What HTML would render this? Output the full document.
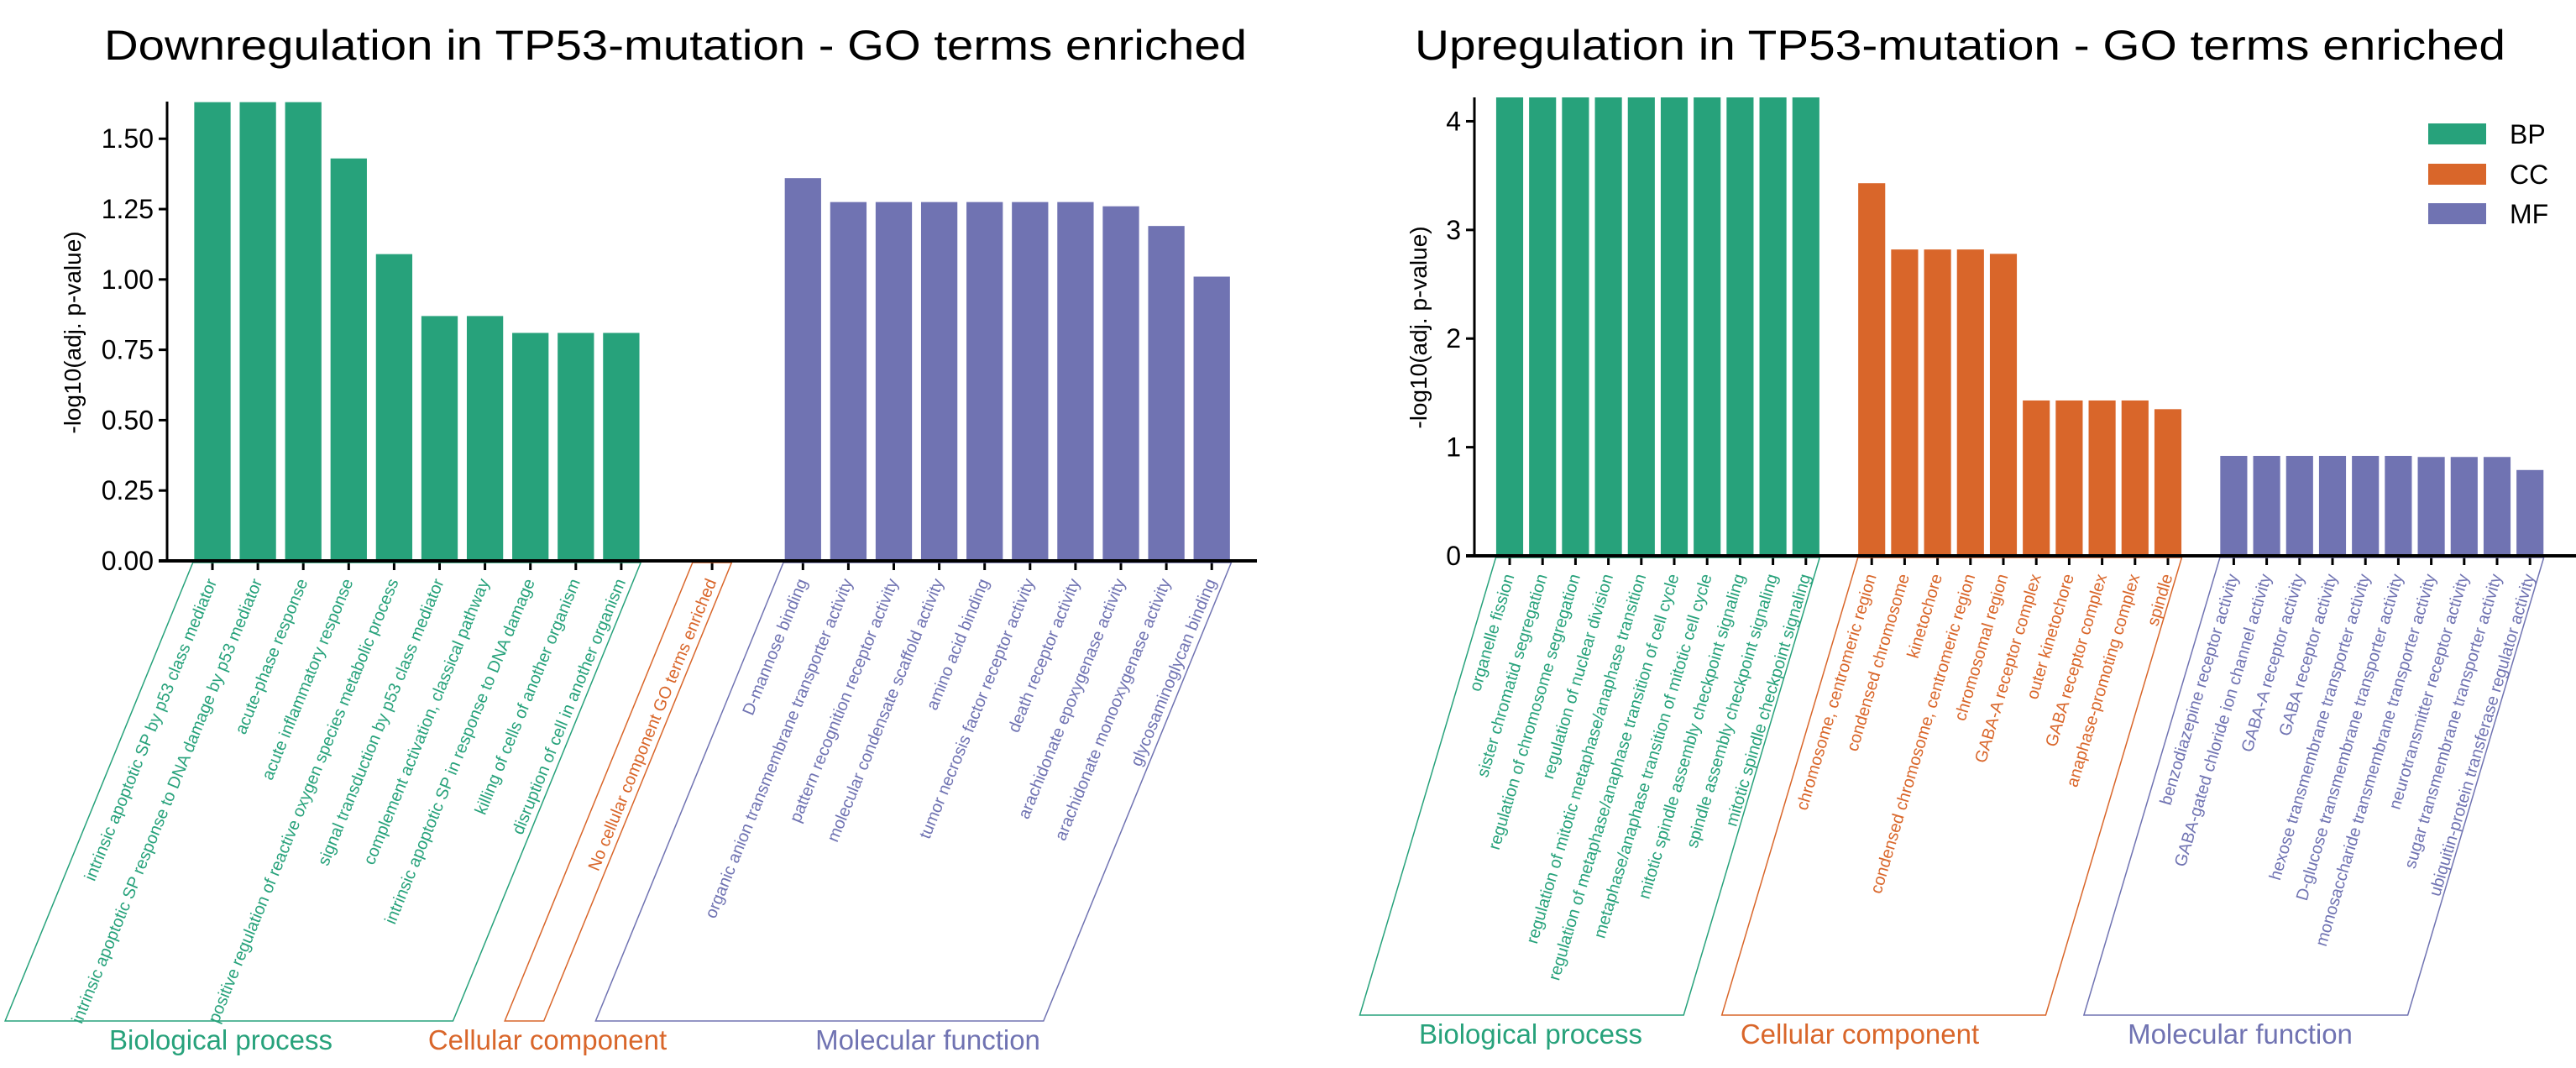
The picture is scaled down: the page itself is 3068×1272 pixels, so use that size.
<!DOCTYPE html>
<html><head><meta charset="utf-8"><style>
html,body{margin:0;padding:0;background:#fff;}
svg{display:block;font-family:"Liberation Sans",Arial,sans-serif;}
</style></head><body>
<svg id="chart" width="3068" height="1272" viewBox="0 0 3068 1272" xmlns="http://www.w3.org/2000/svg">
<text x="124" y="71" font-size="50" textLength="1361" lengthAdjust="spacingAndGlyphs">Downregulation in TP53-mutation - GO terms enriched</text>
<text x="1685" y="71" font-size="50" textLength="1299" lengthAdjust="spacingAndGlyphs">Upregulation in TP53-mutation - GO terms enriched</text>
<text transform="translate(96,396) rotate(-90)" text-anchor="middle" font-size="28">-log10(adj. p-value)</text>
<text transform="translate(1699,390) rotate(-90)" text-anchor="middle" font-size="28">-log10(adj. p-value)</text>
<g>
<rect x="2892" y="147" width="69" height="25" fill="#27a27b"/>
<text x="2989" y="171" font-size="32">BP</text>
<rect x="2892" y="195" width="69" height="25" fill="#d9662a"/>
<text x="2989" y="219" font-size="32">CC</text>
<rect x="2892" y="242" width="69" height="25" fill="#7073b2"/>
<text x="2989" y="266" font-size="32">MF</text>
</g>
</svg>
<script>
const leftBP = ["intrinsic apoptotic SP by p53 class mediator","intrinsic apoptotic SP response to DNA damage by p53 mediator","acute-phase response","acute inflammatory response","positive regulation of reactive oxygen species metabolic process","signal transduction by p53 class mediator","complement activation, classical pathway","intrinsic apoptotic SP in response to DNA damage","killing of cells of another organism","disruption of cell in another organism"];
const leftBPValues = [1.63,1.63,1.63,1.43,1.09,0.87,0.87,0.81,0.81,0.81];
const leftCC = ["No cellular component GO terms enriched"];
const leftCCValues = [0];
const leftMF = ["D-mannose binding","organic anion transmembrane transporter activity","pattern recognition receptor activity","molecular condensate scaffold activity","amino acid binding","tumor necrosis factor receptor activity","death receptor activity","arachidonate epoxygenase activity","arachidonate monooxygenase activity","glycosaminoglycan binding"];
const leftMFValues = [1.36,1.275,1.275,1.275,1.275,1.275,1.275,1.26,1.19,1.01];
const leftTicks = [0,0.25,0.5,0.75,1.0,1.25,1.5];
const leftTickLabels = ["0.00","0.25","0.50","0.75","1.00","1.25","1.50"];
const rightBP = ["organelle fission","sister chromatid segregation","regulation of chromosome segregation","regulation of nuclear division","regulation of mitotic metaphase/anaphase transition","regulation of metaphase/anaphase transition of cell cycle","metaphase/anaphase transition of mitotic cell cycle","mitotic spindle assembly checkpoint signaling","spindle assembly checkpoint signaling","mitotic spindle checkpoint signaling"];
const rightBPValues = [4.22,4.22,4.22,4.22,4.22,4.22,4.22,4.22,4.22,4.22];
const rightCC = ["chromosome, centromeric region","condensed chromosome","kinetochore","condensed chromosome, centromeric region","chromosomal region","GABA-A receptor complex","outer kinetochore","GABA receptor complex","anaphase-promoting complex","spindle"];
const rightCCValues = [3.43,2.82,2.82,2.82,2.78,1.43,1.43,1.43,1.43,1.35];
const rightMF = ["benzodiazepine receptor activity","GABA-gated chloride ion channel activity","GABA-A receptor activity","GABA receptor activity","hexose transmembrane transporter activity","D-glucose transmembrane transporter activity","monosaccharide transmembrane transporter activity","neurotransmitter receptor activity","sugar transmembrane transporter activity","ubiquitin-protein transferase regulator activity"];
const rightMFValues = [0.92,0.92,0.92,0.92,0.92,0.92,0.91,0.91,0.91,0.79];
const rightTicks = [0,1,2,3,4];
const rightTickLabels = ["0","1","2","3","4"];

const NS="http://www.w3.org/2000/svg";
const svg=document.getElementById('chart');
const COL={BP:"#27a27b",CC:"#d9662a",MF:"#7073b2"};
const GROUPNAME={BP:"Biological process",CC:"Cellular component",MF:"Molecular function"};
function mk(tag,attrs,parent){const e=document.createElementNS(NS,tag);for(const k in attrs)e.setAttribute(k,attrs[k]);(parent||svg).appendChild(e);return e;}

function drawPanel(cfg){
  const g=mk('g',{});
  
  
  const groups=[["BP",cfg.bp,cfg.bpV],["CC",cfg.cc,cfg.ccV],["MF",cfg.mf,cfg.mfV]];
  const x0=cfg.axisX, x1=cfg.axisEnd;
  const pitch=cfg.pitch;
  const xs=i=>cfg.first+pitch*i;
  const ys=v=>cfg.base-(v/cfg.ymax)*(cfg.base-cfg.top);
  const bw=pitch*cfg.barFrac;
  cfg.ticks.forEach((t,k)=>{
    const y=ys(t);
    const tl=mk('line',{x1:x0-10,x2:x0,y1:y,y2:y,stroke:"#000","stroke-width":3},g);
    
    
    const tx=mk('text',{x:x0-16,y:y+11,"text-anchor":"end","font-size":32},g);
    
    
    tx.textContent=cfg.tickLabels[k];
  });
  let idx=0;
  const ang=cfg.angle, rad=ang*Math.PI/180;
  const shift=(cfg.bottom-cfg.base)/Math.tan(rad);
  groups.forEach((gr,gi)=>{
    const key=gr[0],labels=gr[1],vals=gr[2];
    const startIdx=idx;
    labels.forEach((lab,j)=>{
      const cx=xs(idx);
      if(vals[j]>0){
        const r=mk('rect',{x:cx-bw/2,y:ys(vals[j]),width:bw,height:cfg.base-ys(vals[j]),fill:COL[key]},g);
        
        
      }
      const tk=mk('line',{x1:cx,x2:cx,y1:cfg.base,y2:cfg.base+11,stroke:"#000","stroke-width":3},g);
      
      
      const t=mk('text',{transform:`translate(${cx-1},${cfg.base+22}) rotate(${-ang})`,"text-anchor":"end",dy:"0.35em","font-size":cfg.labelSize,fill:COL[key]},g);
      
      
      t.textContent=lab;
      idx++;
    });
    const endIdx=idx-1;
    const tl=xs(startIdx)-pitch*cfg.boxPad, tr=xs(endIdx)+pitch*cfg.boxPad;
    const ty=cfg.base+2, by=cfg.bottom;
    const p=mk('polygon',{points:`${tl},${ty} ${tr},${ty} ${tr-shift},${by} ${tl-shift},${by}`,fill:"none",stroke:COL[key],"stroke-width":1.5},g);
    
    
    const gt=mk('text',{x:cfg.groupLabelX[gi],y:by+34,"text-anchor":"middle","font-size":33,fill:COL[key]},g);
    
    
    gt.textContent=GROUPNAME[key];
    idx++;
  });
  const ya=mk('line',{x1:x0,x2:x0,y1:cfg.top,y2:cfg.base+1.5,stroke:"#000","stroke-width":3},g);
  
  
  const xa=mk('line',{x1:x0-10,x2:x1,y1:cfg.base,y2:cfg.base,stroke:"#000","stroke-width":4},g);
  
  
}
drawPanel({prefix:"left",bp:leftBP,bpV:leftBPValues,cc:leftCC,ccV:leftCCValues,mf:leftMF,mfV:leftMFValues,
  ticks:leftTicks,tickLabels:leftTickLabels,axisX:199,axisEnd:1497,first:253,pitch:54.1,top:121,base:668,ymax:1.632,
  bottom:1216,angle:67.8,barFrac:0.8,boxPad:0.43,labelSize:20,groupLabelX:[263,652,1105]});
drawPanel({prefix:"right",bp:rightBP,bpV:rightBPValues,cc:rightCC,ccV:rightCCValues,mf:rightMF,mfV:rightMFValues,
  ticks:rightTicks,tickLabels:rightTickLabels,axisX:1756,axisEnd:3068,first:1798,pitch:39.2,top:116,base:662,ymax:4.22,
  bottom:1209,angle:73.5,barFrac:0.82,boxPad:0.42,labelSize:20,groupLabelX:[1823,2215,2668]});
</script>
</body></html>
